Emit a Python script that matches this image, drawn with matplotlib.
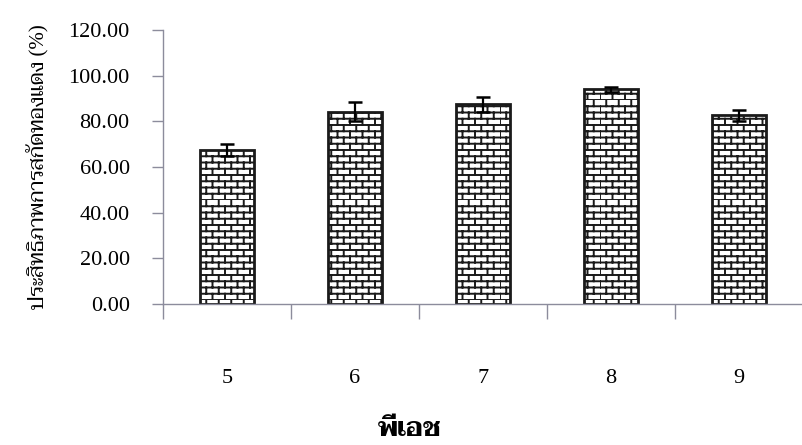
import warnings
import numpy as np
import matplotlib
matplotlib.use("Agg")
import matplotlib.pyplot as plt
import matplotlib.hatch as mhatch
from matplotlib.path import Path

warnings.filterwarnings("ignore")

# data
ph_labels = ["5", "6", "7", "8", "9"]
efficiency = [67.4, 84.1, 87.4, 93.9, 82.6]
sd = [2.5, 4.2, 3.3, 1.2, 2.3]


class BrickHatch(mhatch.HatchPatternBase):
    """Brick-wall hatch, triggered by the letter 'b'."""
    rows = 16
    bricks = 8

    def __init__(self, hatch, density):
        self.on = 'b' in hatch
        n = self.rows * 2 + self.rows * self.bricks * 2
        self.num_vertices = n if self.on else 0

    def set_vertices_and_codes(self, vertices, codes):
        h = 1.0 / self.rows
        w = 1.0 / self.bricks
        i = 0
        for r in range(self.rows):
            y = r * h
            vertices[i] = (0.0, y)
            vertices[i + 1] = (1.0, y)
            codes[i] = Path.MOVETO
            codes[i + 1] = Path.LINETO
            i += 2
        for r in range(self.rows):
            off = 0.5 * w * (r % 2)
            for b in range(self.bricks):
                xx = b * w + off
                vertices[i] = (xx, r * h)
                vertices[i + 1] = (xx, (r + 1) * h)
                codes[i] = Path.MOVETO
                codes[i + 1] = Path.LINETO
                i += 2


mhatch._hatch_types.append(BrickHatch)

plt.rcParams['font.family'] = ['Liberation Serif', 'Noto Serif Thai']
plt.rcParams['hatch.linewidth'] = 1.4
plt.rcParams['hatch.color'] = '#2a2a2a'

axis_col = '#8c8c9c'

fig = plt.figure(figsize=(8.03, 4.45), dpi=100)
ax = fig.add_axes([0.203, 0.317, 0.797, 0.616])

x = np.arange(len(ph_labels))
ax.bar(x, efficiency, width=0.42, color='white', edgecolor='#1a1a1a',
       linewidth=2, hatch='b', zorder=2)
ax.errorbar(x, efficiency, yerr=sd, fmt='none', ecolor='black',
            elinewidth=1.6, capsize=5, capthick=1.8, zorder=3)

ax.set_xlim(-0.5, 4.45)
ax.set_ylim(0, 120)
ax.set_yticks(np.arange(0, 121, 20))
ax.set_yticklabels(["%.2f" % v for v in np.arange(0, 121, 20)])

# category boundaries as major ticks, labels on minor ticks at the centres
ax.set_xticks(np.arange(-0.5, 4.6, 1.0))
ax.set_xticklabels([])
ax.set_xticks(x, minor=True)
ax.set_xticklabels(ph_labels, minor=True)
ax.tick_params(axis='x', which='major', length=11, width=1, color=axis_col, direction='out')
ax.tick_params(axis='x', which='minor', length=0, pad=47, labelsize=16)
ax.tick_params(axis='y', length=8, width=1, color=axis_col, direction='out',
               pad=16, labelsize=16)

for s in ['top', 'right']:
    ax.spines[s].set_visible(False)
for s in ['left', 'bottom']:
    ax.spines[s].set_color(axis_col)
    ax.spines[s].set_linewidth(1)

ax.set_ylabel("ประสิทธิภาพการสกัดทองแดง (%)", fontsize=15,
              family=['Liberation Serif', 'Taviraj'])
ax.yaxis.set_label_coords(-0.178, 0.5)
fig.text(410 / 803, 0.035, "พีเอช", fontsize=19, fontweight='bold',
         family=['Taviraj', 'Noto Serif Thai'], ha='center', va='center')

fig.savefig("out.png", dpi=100)
